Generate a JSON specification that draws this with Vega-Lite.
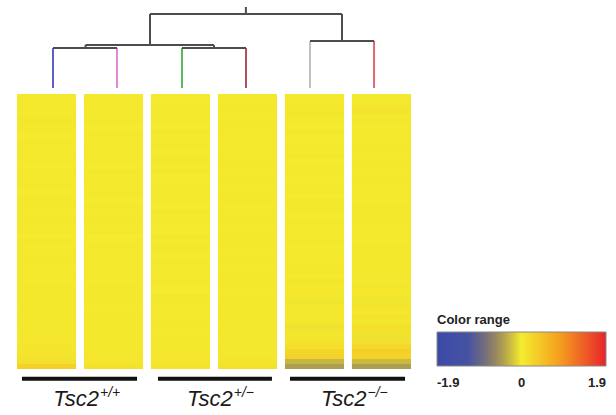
{
  "$schema": "https://vega.github.io/schema/vega-lite/v6.json",
  "width": 616,
  "height": 415,
  "padding": 0,
  "autosize": "none",
  "background": "white",
  "config": {"view": {"stroke": null}},
  "resolve": {"scale": {"x": "independent", "y": "independent"}},
  "layer": [
    {
      "data": {"values": [
        {"sample":1,"row":1,"value":0.04},{"sample":1,"row":2,"value":0.03},{"sample":1,"row":3,"value":0.06},{"sample":1,"row":4,"value":0.03},{"sample":1,"row":5,"value":0.05},{"sample":1,"row":6,"value":0.08},{"sample":1,"row":7,"value":0.04},{"sample":1,"row":8,"value":0.03},{"sample":1,"row":9,"value":0.02},{"sample":1,"row":10,"value":0.05},
        {"sample":1,"row":11,"value":0.03},{"sample":1,"row":12,"value":0.04},{"sample":1,"row":13,"value":0.06},{"sample":1,"row":14,"value":0.03},{"sample":1,"row":15,"value":0.02},{"sample":1,"row":16,"value":0.04},{"sample":1,"row":17,"value":0.05},{"sample":1,"row":18,"value":0.03},{"sample":1,"row":19,"value":0.04},{"sample":1,"row":20,"value":0.02},
        {"sample":1,"row":21,"value":0.03},{"sample":1,"row":22,"value":0.05},{"sample":1,"row":23,"value":0.04},{"sample":1,"row":24,"value":0.03},{"sample":1,"row":25,"value":0.06},{"sample":1,"row":26,"value":0.04},{"sample":1,"row":27,"value":0.03},{"sample":1,"row":28,"value":0.05},{"sample":1,"row":29,"value":0.02},{"sample":1,"row":30,"value":0.04},
        {"sample":1,"row":31,"value":0.03},{"sample":1,"row":32,"value":0.05},{"sample":1,"row":33,"value":0.04},{"sample":1,"row":34,"value":0.06},{"sample":1,"row":35,"value":0.03},{"sample":1,"row":36,"value":0.04},{"sample":1,"row":37,"value":0.05},{"sample":1,"row":38,"value":0.03},{"sample":1,"row":39,"value":0.04},{"sample":1,"row":40,"value":0.06},
        {"sample":1,"row":41,"value":0.05},{"sample":1,"row":42,"value":0.04},{"sample":1,"row":43,"value":0.07},{"sample":1,"row":44,"value":0.05},{"sample":1,"row":45,"value":0.04},{"sample":1,"row":46,"value":0.06},{"sample":1,"row":47,"value":0.05},{"sample":1,"row":48,"value":0.07},{"sample":1,"row":49,"value":0.06},{"sample":1,"row":50,"value":0.08},
        {"sample":1,"row":51,"value":0.07},{"sample":1,"row":52,"value":0.09},{"sample":1,"row":53,"value":0.1},{"sample":1,"row":54,"value":0.14},{"sample":1,"row":55,"value":0.3},

        {"sample":2,"row":1,"value":0.03},{"sample":2,"row":2,"value":0.04},{"sample":2,"row":3,"value":0.03},{"sample":2,"row":4,"value":0.05},{"sample":2,"row":5,"value":0.03},{"sample":2,"row":6,"value":0.04},{"sample":2,"row":7,"value":0.02},{"sample":2,"row":8,"value":0.03},{"sample":2,"row":9,"value":0.04},{"sample":2,"row":10,"value":0.03},
        {"sample":2,"row":11,"value":0.05},{"sample":2,"row":12,"value":0.03},{"sample":2,"row":13,"value":0.04},{"sample":2,"row":14,"value":0.03},{"sample":2,"row":15,"value":0.02},{"sample":2,"row":16,"value":0.04},{"sample":2,"row":17,"value":0.03},{"sample":2,"row":18,"value":0.05},{"sample":2,"row":19,"value":0.03},{"sample":2,"row":20,"value":0.04},
        {"sample":2,"row":21,"value":0.03},{"sample":2,"row":22,"value":0.02},{"sample":2,"row":23,"value":0.04},{"sample":2,"row":24,"value":0.03},{"sample":2,"row":25,"value":0.05},{"sample":2,"row":26,"value":0.04},{"sample":2,"row":27,"value":0.03},{"sample":2,"row":28,"value":0.04},{"sample":2,"row":29,"value":0.02},{"sample":2,"row":30,"value":0.03},
        {"sample":2,"row":31,"value":0.05},{"sample":2,"row":32,"value":0.04},{"sample":2,"row":33,"value":0.03},{"sample":2,"row":34,"value":0.04},{"sample":2,"row":35,"value":0.05},{"sample":2,"row":36,"value":0.03},{"sample":2,"row":37,"value":0.04},{"sample":2,"row":38,"value":0.03},{"sample":2,"row":39,"value":0.05},{"sample":2,"row":40,"value":0.04},
        {"sample":2,"row":41,"value":0.06},{"sample":2,"row":42,"value":0.04},{"sample":2,"row":43,"value":0.03},{"sample":2,"row":44,"value":0.05},{"sample":2,"row":45,"value":0.04},{"sample":2,"row":46,"value":0.06},{"sample":2,"row":47,"value":0.05},{"sample":2,"row":48,"value":0.04},{"sample":2,"row":49,"value":0.06},{"sample":2,"row":50,"value":0.05},
        {"sample":2,"row":51,"value":0.04},{"sample":2,"row":52,"value":0.06},{"sample":2,"row":53,"value":0.07},{"sample":2,"row":54,"value":0.08},{"sample":2,"row":55,"value":0.12},

        {"sample":3,"row":1,"value":0.03},{"sample":3,"row":2,"value":0.02},{"sample":3,"row":3,"value":0.04},{"sample":3,"row":4,"value":0.03},{"sample":3,"row":5,"value":0.05},{"sample":3,"row":6,"value":0.03},{"sample":3,"row":7,"value":0.02},{"sample":3,"row":8,"value":0.04},{"sample":3,"row":9,"value":0.03},{"sample":3,"row":10,"value":0.03},
        {"sample":3,"row":11,"value":0.04},{"sample":3,"row":12,"value":0.02},{"sample":3,"row":13,"value":0.03},{"sample":3,"row":14,"value":0.05},{"sample":3,"row":15,"value":0.03},{"sample":3,"row":16,"value":0.04},{"sample":3,"row":17,"value":0.02},{"sample":3,"row":18,"value":0.03},{"sample":3,"row":19,"value":0.04},{"sample":3,"row":20,"value":0.03},
        {"sample":3,"row":21,"value":0.05},{"sample":3,"row":22,"value":0.03},{"sample":3,"row":23,"value":0.02},{"sample":3,"row":24,"value":0.04},{"sample":3,"row":25,"value":0.03},{"sample":3,"row":26,"value":0.04},{"sample":3,"row":27,"value":0.03},{"sample":3,"row":28,"value":0.02},{"sample":3,"row":29,"value":0.05},{"sample":3,"row":30,"value":0.03},
        {"sample":3,"row":31,"value":0.04},{"sample":3,"row":32,"value":0.03},{"sample":3,"row":33,"value":0.02},{"sample":3,"row":34,"value":0.04},{"sample":3,"row":35,"value":0.03},{"sample":3,"row":36,"value":0.05},{"sample":3,"row":37,"value":0.03},{"sample":3,"row":38,"value":0.04},{"sample":3,"row":39,"value":0.03},{"sample":3,"row":40,"value":0.02},
        {"sample":3,"row":41,"value":0.04},{"sample":3,"row":42,"value":0.05},{"sample":3,"row":43,"value":0.03},{"sample":3,"row":44,"value":0.04},{"sample":3,"row":45,"value":0.03},{"sample":3,"row":46,"value":0.05},{"sample":3,"row":47,"value":0.04},{"sample":3,"row":48,"value":0.03},{"sample":3,"row":49,"value":0.05},{"sample":3,"row":50,"value":0.04},
        {"sample":3,"row":51,"value":0.05},{"sample":3,"row":52,"value":0.04},{"sample":3,"row":53,"value":0.06},{"sample":3,"row":54,"value":0.07},{"sample":3,"row":55,"value":0.1},

        {"sample":4,"row":1,"value":0.04},{"sample":4,"row":2,"value":0.03},{"sample":4,"row":3,"value":0.05},{"sample":4,"row":4,"value":0.04},{"sample":4,"row":5,"value":0.03},{"sample":4,"row":6,"value":0.05},{"sample":4,"row":7,"value":0.04},{"sample":4,"row":8,"value":0.06},{"sample":4,"row":9,"value":0.03},{"sample":4,"row":10,"value":0.04},
        {"sample":4,"row":11,"value":0.05},{"sample":4,"row":12,"value":0.03},{"sample":4,"row":13,"value":0.04},{"sample":4,"row":14,"value":0.06},{"sample":4,"row":15,"value":0.04},{"sample":4,"row":16,"value":0.03},{"sample":4,"row":17,"value":0.05},{"sample":4,"row":18,"value":0.04},{"sample":4,"row":19,"value":0.03},{"sample":4,"row":20,"value":0.05},
        {"sample":4,"row":21,"value":0.04},{"sample":4,"row":22,"value":0.06},{"sample":4,"row":23,"value":0.03},{"sample":4,"row":24,"value":0.04},{"sample":4,"row":25,"value":0.05},{"sample":4,"row":26,"value":0.04},{"sample":4,"row":27,"value":0.03},{"sample":4,"row":28,"value":0.05},{"sample":4,"row":29,"value":0.04},{"sample":4,"row":30,"value":0.06},
        {"sample":4,"row":31,"value":0.04},{"sample":4,"row":32,"value":0.03},{"sample":4,"row":33,"value":0.05},{"sample":4,"row":34,"value":0.04},{"sample":4,"row":35,"value":0.03},{"sample":4,"row":36,"value":0.05},{"sample":4,"row":37,"value":0.06},{"sample":4,"row":38,"value":0.04},{"sample":4,"row":39,"value":0.05},{"sample":4,"row":40,"value":0.03},
        {"sample":4,"row":41,"value":0.06},{"sample":4,"row":42,"value":0.04},{"sample":4,"row":43,"value":0.05},{"sample":4,"row":44,"value":0.07},{"sample":4,"row":45,"value":0.04},{"sample":4,"row":46,"value":0.06},{"sample":4,"row":47,"value":0.05},{"sample":4,"row":48,"value":0.07},{"sample":4,"row":49,"value":0.05},{"sample":4,"row":50,"value":0.06},
        {"sample":4,"row":51,"value":0.07},{"sample":4,"row":52,"value":0.06},{"sample":4,"row":53,"value":0.08},{"sample":4,"row":54,"value":0.09},{"sample":4,"row":55,"value":0.12},

        {"sample":5,"row":1,"value":0.03},{"sample":5,"row":2,"value":0.04},{"sample":5,"row":3,"value":0.05},{"sample":5,"row":4,"value":0.08},{"sample":5,"row":5,"value":0.04},{"sample":5,"row":6,"value":0.03},{"sample":5,"row":7,"value":0.02},{"sample":5,"row":8,"value":0.04},{"sample":5,"row":9,"value":0.03},{"sample":5,"row":10,"value":0.02},
        {"sample":5,"row":11,"value":0.04},{"sample":5,"row":12,"value":0.03},{"sample":5,"row":13,"value":0.04},{"sample":5,"row":14,"value":0.02},{"sample":5,"row":15,"value":0.03},{"sample":5,"row":16,"value":0.04},{"sample":5,"row":17,"value":0.03},{"sample":5,"row":18,"value":0.02},{"sample":5,"row":19,"value":0.04},{"sample":5,"row":20,"value":0.03},
        {"sample":5,"row":21,"value":0.02},{"sample":5,"row":22,"value":0.04},{"sample":5,"row":23,"value":0.05},{"sample":5,"row":24,"value":0.03},{"sample":5,"row":25,"value":0.02},{"sample":5,"row":26,"value":0.04},{"sample":5,"row":27,"value":0.03},{"sample":5,"row":28,"value":0.05},{"sample":5,"row":29,"value":0.03},{"sample":5,"row":30,"value":0.04},
        {"sample":5,"row":31,"value":0.02},{"sample":5,"row":32,"value":0.05},{"sample":5,"row":33,"value":0.04},{"sample":5,"row":34,"value":0.03},{"sample":5,"row":35,"value":0.06},{"sample":5,"row":36,"value":0.04},{"sample":5,"row":37,"value":0.03},{"sample":5,"row":38,"value":0.07},{"sample":5,"row":39,"value":0.05},{"sample":5,"row":40,"value":0.04},
        {"sample":5,"row":41,"value":0.06},{"sample":5,"row":42,"value":-0.03},{"sample":5,"row":43,"value":0.05},{"sample":5,"row":44,"value":0.07},{"sample":5,"row":45,"value":0.06},{"sample":5,"row":46,"value":0.08},{"sample":5,"row":47,"value":-0.04},{"sample":5,"row":48,"value":0.09},{"sample":5,"row":49,"value":0.08},{"sample":5,"row":50,"value":0.1},
        {"sample":5,"row":51,"value":0.15},{"sample":5,"row":52,"value":0.25},{"sample":5,"row":53,"value":0.3},{"sample":5,"row":54,"value":-0.28},{"sample":5,"row":55,"value":-0.42},

        {"sample":6,"row":1,"value":0.03},{"sample":6,"row":2,"value":0.05},{"sample":6,"row":3,"value":0.07},{"sample":6,"row":4,"value":0.1},{"sample":6,"row":5,"value":0.06},{"sample":6,"row":6,"value":0.04},{"sample":6,"row":7,"value":0.03},{"sample":6,"row":8,"value":0.05},{"sample":6,"row":9,"value":0.04},{"sample":6,"row":10,"value":0.03},
        {"sample":6,"row":11,"value":0.05},{"sample":6,"row":12,"value":0.04},{"sample":6,"row":13,"value":0.03},{"sample":6,"row":14,"value":0.05},{"sample":6,"row":15,"value":0.04},{"sample":6,"row":16,"value":0.03},{"sample":6,"row":17,"value":0.05},{"sample":6,"row":18,"value":0.04},{"sample":6,"row":19,"value":0.03},{"sample":6,"row":20,"value":0.05},
        {"sample":6,"row":21,"value":0.04},{"sample":6,"row":22,"value":0.03},{"sample":6,"row":23,"value":0.05},{"sample":6,"row":24,"value":0.04},{"sample":6,"row":25,"value":0.06},{"sample":6,"row":26,"value":0.04},{"sample":6,"row":27,"value":0.03},{"sample":6,"row":28,"value":0.05},{"sample":6,"row":29,"value":0.04},{"sample":6,"row":30,"value":0.03},
        {"sample":6,"row":31,"value":0.05},{"sample":6,"row":32,"value":0.04},{"sample":6,"row":33,"value":0.06},{"sample":6,"row":34,"value":0.05},{"sample":6,"row":35,"value":0.04},{"sample":6,"row":36,"value":0.07},{"sample":6,"row":37,"value":0.05},{"sample":6,"row":38,"value":0.06},{"sample":6,"row":39,"value":0.08},{"sample":6,"row":40,"value":0.05},
        {"sample":6,"row":41,"value":0.07},{"sample":6,"row":42,"value":-0.03},{"sample":6,"row":43,"value":0.09},{"sample":6,"row":44,"value":0.06},{"sample":6,"row":45,"value":0.1},{"sample":6,"row":46,"value":0.08},{"sample":6,"row":47,"value":0.12},{"sample":6,"row":48,"value":0.1},{"sample":6,"row":49,"value":-0.04},{"sample":6,"row":50,"value":0.14},
        {"sample":6,"row":51,"value":0.22},{"sample":6,"row":52,"value":0.32},{"sample":6,"row":53,"value":0.28},{"sample":6,"row":54,"value":-0.25},{"sample":6,"row":55,"value":-0.42}
      ]},
      "mark": {"type": "rect", "strokeWidth": 0},
      "encoding": {
        "x": {"field": "sample", "type": "ordinal", "axis": null,
              "scale": {"range": [17, 411], "paddingInner": 0.118, "paddingOuter": 0}},
        "y": {"field": "row", "type": "ordinal", "axis": null,
              "scale": {"range": [94, 369], "paddingInner": 0, "paddingOuter": 0}},
        "color": {
          "field": "value", "type": "quantitative",
          "scale": {
            "domain": [-1.9, -1.2, -0.7, -0.35, 0, 0.85, 1.9],
            "range": ["#3b4aa8", "#4653a3", "#85776e", "#b8a848", "#f4ec2e", "#f5a01f", "#e8232a"],
            "interpolate": "rgb"
          },
          "legend": {
            "title": "Color range",
            "orient": "none",
            "legendX": 437,
            "legendY": 314,
            "direction": "horizontal",
            "gradientLength": 169,
            "gradientThickness": 34,
            "gradientStrokeColor": "#888888",
            "gradientStrokeWidth": 1,
            "values": [-1.9, 0, 1.9],
            "titleFont": "Liberation Sans",
            "titleFontSize": 13,
            "titleFontWeight": "bold",
            "titleColor": "#222222",
            "titlePadding": 5,
            "labelFont": "Liberation Sans",
            "labelFontSize": 13,
            "labelFontWeight": "bold",
            "labelColor": "#222222",
            "labelAlign": "center",
            "labelOffset": 11,
            "labelExpr": "datum.value == 0 ? '0' : replace(format(datum.value, '.1f'), '\u2212', '-')"
          }
        }
      }
    },
    {
      "layer": [
        {
          "data": {"values": [
            {"branch": "s1", "x": 1.097, "x2": 1.097, "y": 0, "y2": 0.54},
            {"branch": "s2", "x": 2.054, "x2": 2.054, "y": 0, "y2": 0.54},
            {"branch": "s3", "x": 3.025, "x2": 3.025, "y": 0, "y2": 0.54},
            {"branch": "s4", "x": 3.982, "x2": 3.982, "y": 0, "y2": 0.54},
            {"branch": "s5", "x": 4.939, "x2": 4.939, "y": 0, "y2": 0.635},
            {"branch": "s6", "x": 5.896, "x2": 5.896, "y": 0, "y2": 0.635},
            {"branch": "tree", "x": 1.097, "x2": 2.054, "y": 0.54, "y2": 0.54},
            {"branch": "tree", "x": 3.025, "x2": 3.982, "y": 0.54, "y2": 0.54},
            {"branch": "tree", "x": 1.583, "x2": 1.583, "y": 0.54, "y2": 0.58},
            {"branch": "tree", "x": 3.504, "x2": 3.504, "y": 0.54, "y2": 0.58},
            {"branch": "tree", "x": 1.583, "x2": 3.504, "y": 0.58, "y2": 0.58},
            {"branch": "tree", "x": 2.547, "x2": 2.547, "y": 0.58, "y2": 1.0},
            {"branch": "tree", "x": 4.939, "x2": 5.896, "y": 0.635, "y2": 0.635},
            {"branch": "tree", "x": 5.417, "x2": 5.417, "y": 0.635, "y2": 1.0},
            {"branch": "tree", "x": 2.547, "x2": 5.417, "y": 1.0, "y2": 1.0},
            {"branch": "tree", "x": 3.98, "x2": 3.98, "y": 1.0, "y2": 1.095}
          ]},
          "mark": {"type": "rule", "strokeWidth": 2},
          "encoding": {
            "x": {"field": "x", "type": "quantitative", "axis": null,
                  "scale": {"domain": [1, 6], "range": [46.5, 381], "nice": false, "zero": false}},
            "x2": {"field": "x2"},
            "y": {"field": "y", "type": "quantitative", "axis": null,
                  "scale": {"domain": [0, 1], "range": [88, 14], "nice": false, "zero": false}},
            "y2": {"field": "y2"},
            "stroke": {"field": "branch", "type": "nominal", "legend": null,
                       "scale": {"domain": ["s1", "s2", "s3", "s4", "s5", "s6", "tree"],
                                 "range": ["#5b5fc7", "#dc8ad4", "#58b858", "#b0505a", "#c0c0c0", "#dc6a72", "#4d4d4d"]}}
          }
        },
        {
          "data": {"name": "groups", "values": [
            {"gene": "Tsc2", "genotype": "+/+", "center": 1.5, "from": 0.634, "to": 2.353},
            {"gene": "Tsc2", "genotype": "+/\u2212", "center": 3.5, "from": 2.667, "to": 4.37},
            {"gene": "Tsc2", "genotype": "\u2212/\u2212", "center": 5.5, "from": 4.64, "to": 6.359}
          ]},
          "layer": [
            {
              "mark": {"type": "rule", "strokeWidth": 4, "color": "#111111"},
              "encoding": {
                "x": {"field": "from", "type": "quantitative"},
                "x2": {"field": "to"},
                "y": {"datum": -3.93, "type": "quantitative"}
              }
            },
            {
              "mark": {"type": "text", "align": "right", "baseline": "alphabetic", "dx": 19, "dy": 27,
                       "font": "Liberation Sans", "fontSize": 22, "fontStyle": "italic", "color": "#1a1a1a"},
              "encoding": {
                "x": {"field": "center", "type": "quantitative"},
                "y": {"datum": -3.93, "type": "quantitative"},
                "text": {"field": "gene"}
              }
            },
            {
              "mark": {"type": "text", "align": "left", "baseline": "alphabetic", "dx": 20, "dy": 18,
                       "font": "Liberation Sans", "fontSize": 14, "fontStyle": "italic", "color": "#1a1a1a"},
              "encoding": {
                "x": {"field": "center", "type": "quantitative"},
                "y": {"datum": -3.93, "type": "quantitative"},
                "text": {"field": "genotype"}
              }
            }
          ]
        }
      ]
    }
  ]
}
